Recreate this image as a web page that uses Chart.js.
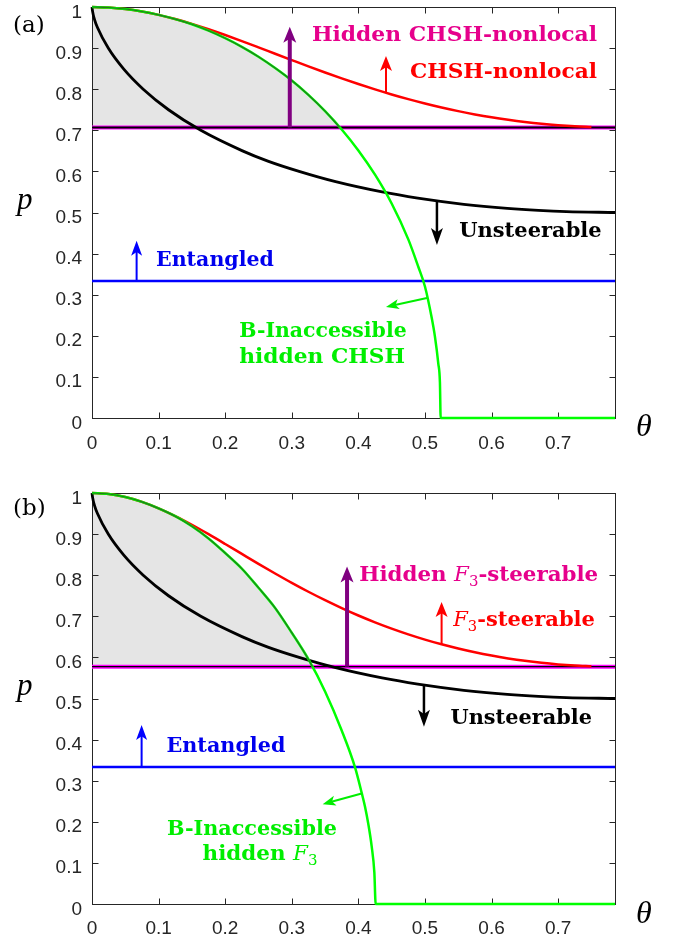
<!DOCTYPE html>
<html lang="en">
<head>
<meta charset="UTF-8">
<title>Hidden nonlocality / steering regions</title>
<script src="https://cdn.jsdelivr.net/npm/chart.js@4.4.0/dist/chart.umd.min.js"></script>
<style>
  html, body { margin: 0; padding: 0; background: #fff; }
  #wrap { position: relative; width: 674px; height: 941px; }
  canvas { position: absolute; left: 0; }
  #chartA { top: 0; }
  #chartB { top: 470px; }
</style>
</head>
<body>
<div id="wrap">
  <canvas id="chartA" width="674" height="470"></canvas>
  <canvas id="chartB" width="674" height="471"></canvas>
</div>
<script>
// ---- values ----
const xTicks = [0, 0.1, 0.2, 0.3, 0.4, 0.5, 0.6, 0.7];
const xTickLabels = ['0', '0.1', '0.2', '0.3', '0.4', '0.5', '0.6', '0.7'];
const yTicks = [0, 0.1, 0.2, 0.3, 0.4, 0.5, 0.6, 0.7, 0.8, 0.9, 1];
const yTickLabels = ['0', '0.1', '0.2', '0.3', '0.4', '0.5', '0.6', '0.7', '0.8', '0.9', '1'];
const thetaMax = 0.7854;

// red: CHSH-nonlocal (a) / F3-steerable (b)
const redTheta = [0, 0.025, 0.05, 0.075, 0.1, 0.125, 0.15, 0.175, 0.2, 0.225, 0.25, 0.275, 0.3, 0.325, 0.35, 0.375,
                  0.4, 0.425, 0.45, 0.475, 0.5, 0.525, 0.55, 0.575, 0.6, 0.625, 0.65, 0.675, 0.7, 0.725, 0.75];
const redPA = [1, 0.9988, 0.9951, 0.9890, 0.9808, 0.9707, 0.9590, 0.9459, 0.9318, 0.9170, 0.9017, 0.8862, 0.8708, 0.8555, 0.8407, 0.8263,
               0.8126, 0.7995, 0.7872, 0.7758, 0.7652, 0.7554, 0.7466, 0.7386, 0.7315, 0.7254, 0.7201, 0.7157, 0.7123, 0.7097, 0.7080];
const redPB = [1, 0.9975, 0.9902, 0.9784, 0.9627, 0.9439, 0.9227, 0.8998, 0.8760, 0.8518, 0.8277, 0.8042, 0.7814, 0.7597, 0.7392, 0.7200,
               0.7020, 0.6854, 0.6701, 0.6561, 0.6433, 0.6318, 0.6216, 0.6124, 0.6044, 0.5975, 0.5916, 0.5868, 0.5830, 0.5802, 0.5783];

// black: unsteerable bound (same in both panels)
const blackTheta = [0, 0.0008, 0.0037, 0.0082, 0.0244, 0.0471, 0.0769, 0.1149, 0.1634, 0.2260, 0.2641, 0.3110, 0.3658, 0.4357,
                    0.4893, 0.5584, 0.6237, 0.6704, 0.7125, 0.7854];
const blackP = [1, 0.99, 0.97, 0.95, 0.90, 0.85, 0.80, 0.75, 0.70, 0.65, 0.625, 0.60, 0.575, 0.55, 0.535, 0.52, 0.51, 0.505, 0.502, 0.50];

// green: B-inaccessible hidden CHSH (a) / hidden F3 (b)
const greenThetaA = [0, 0.025, 0.05, 0.075, 0.1, 0.125, 0.15, 0.175, 0.2, 0.225, 0.25, 0.275, 0.3, 0.325, 0.35, 0.375,
                     0.4, 0.425, 0.45, 0.475, 0.49, 0.5, 0.51, 0.515, 0.52, 0.5225, 0.5236, 0.6, 0.7, 0.7854];
const greenPA = [1, 0.9988, 0.9951, 0.9890, 0.9808, 0.9705, 0.958, 0.9423, 0.924, 0.903, 0.879, 0.8515, 0.821, 0.786, 0.7465, 0.702,
                 0.651, 0.592, 0.522, 0.4346, 0.368, 0.32, 0.245, 0.198, 0.133, 0.086, 0, 0, 0, 0];
const greenThetaB = [0, 0.025, 0.05, 0.075, 0.1, 0.125, 0.15, 0.175, 0.2, 0.225, 0.25, 0.275, 0.3, 0.325, 0.35, 0.375,
                     0.395, 0.405, 0.41, 0.415, 0.42, 0.424, 0.426, 0.5, 0.6, 0.7, 0.7854];
const greenPB = [1, 0.9975, 0.9902, 0.9784, 0.9627, 0.9435, 0.919, 0.8894, 0.854, 0.8161, 0.7696, 0.7204, 0.6601, 0.5956, 0.5172, 0.4221,
                 0.3325, 0.2705, 0.2367, 0.194, 0.140, 0.077, 0, 0, 0, 0, 0];

const entangledP = 0.3333;
const hiddenPA = 0.7071;   // hidden CHSH-nonlocal threshold
const hiddenPB = 0.5774;   // hidden F3-steerable threshold
const fillEndA = 0.372;    // green meets the threshold line
const fillEndB = 0.331;

// ---- helpers ----
const pts = (xs, ys) => xs.map((v, i) => ({ x: v, y: ys[i] }));

function line(data, color, width, order) {
  return { data, borderColor: color, borderWidth: width, order, fill: false, pointRadius: 0,
           cubicInterpolationMode: 'monotone', clip: 6 };
}

function arrow(ctx, x1, y1, x2, y2, color, lw, hl, hw) {
  const a = Math.atan2(y2 - y1, x2 - x1), c = Math.cos(a), s = Math.sin(a);
  const bx = x2 - hl * c, by = y2 - hl * s;
  ctx.strokeStyle = color; ctx.fillStyle = color; ctx.lineWidth = lw;
  ctx.beginPath(); ctx.moveTo(x1, y1); ctx.lineTo(bx + 0.3 * hl * c, by + 0.3 * hl * s); ctx.stroke();
  ctx.beginPath();
  ctx.moveTo(x2, y2);
  ctx.lineTo(bx + hw / 2 * s, by - hw / 2 * c);
  ctx.lineTo(bx + 0.25 * hl * c, by + 0.25 * hl * s);
  ctx.lineTo(bx - hw / 2 * s, by + hw / 2 * c);
  ctx.closePath(); ctx.fill();
}

function fontOf(st, size) {
  if (st === 'i') return `italic ${size.toFixed(2)}px "DejaVu Serif"`;
  if (st === 's') return `${(size * 0.7).toFixed(2)}px "DejaVu Serif"`;
  return `bold ${size.toFixed(2)}px "DejaVu Serif"`;
}

// draws a run of text pieces at a fixed size, squeezed horizontally to span [left, right]
function drawRich(ctx, parts, left, right, base, color) {
  const size = 21;
  let w = 0;
  parts.forEach(([t, st]) => { ctx.font = fontOf(st, size); w += ctx.measureText(t).width; });
  const k = (right - left) / w;
  ctx.save();
  ctx.translate(left, base);
  ctx.scale(k, 1);
  let x = 0;
  ctx.fillStyle = color; ctx.textAlign = 'left'; ctx.textBaseline = 'alphabetic';
  parts.forEach(([t, st]) => {
    ctx.font = fontOf(st, size);
    ctx.fillText(t, x, st === 's' ? size * 0.22 : 0);
    x += ctx.measureText(t).width;
  });
  ctx.restore();
}

function decorations(p) {
  return {
    id: 'deco',
    beforeDatasetsDraw(chart) {
      const { ctx, chartArea: a, scales: { x, y } } = chart;
      ctx.save();
      ctx.strokeStyle = '#262626'; ctx.lineWidth = 1;
      const L = Math.round(a.left) + 0.5, R = Math.round(a.right) + 0.5;
      const T = Math.round(a.top) + 0.5, B = Math.round(a.bottom) + 0.5;
      ctx.beginPath();
      xTicks.forEach(v => {
        const px = Math.round(x.getPixelForValue(v)) + 0.5;
        ctx.moveTo(px, B); ctx.lineTo(px, B - 6);
        ctx.moveTo(px, T); ctx.lineTo(px, T + 6);
      });
      yTicks.forEach(v => {
        const py = Math.round(y.getPixelForValue(v)) + 0.5;
        ctx.moveTo(L, py); ctx.lineTo(L + 6, py);
        ctx.moveTo(R, py); ctx.lineTo(R - 6, py);
      });
      ctx.stroke();
      ctx.strokeRect(L, T, R - L, B - T);

      ctx.fillStyle = '#262626';
      ctx.font = '19px "Liberation Sans"';
      ctx.textBaseline = 'alphabetic';
      ctx.textAlign = 'center';
      xTicks.forEach((v, i) => ctx.fillText(xTickLabels[i], x.getPixelForValue(v), a.bottom + p.xLabelDrop));
      ctx.textAlign = 'right';
      yTicks.forEach((v, i) => ctx.fillText(yTickLabels[i], a.left - 10, y.getPixelForValue(v) + 10.5));

      ctx.fillStyle = '#000';
      ctx.textAlign = 'left';
      ctx.font = 'italic 31px "Liberation Serif"';
      ctx.fillText('p', 17, p.pBase);
      ctx.font = 'italic 32px "Liberation Serif"';
      ctx.fillText('θ', 636, p.thetaBase);
      ctx.font = '23px "DejaVu Serif"';
      ctx.fillText(p.tag, 13, p.tagBase);
      ctx.restore();
    },
    afterDatasetsDraw(chart) {
      const { ctx, scales: { x, y } } = chart;
      ctx.save();
      p.arrows.forEach(r => arrow(ctx, x.getPixelForValue(r.from[0]), y.getPixelForValue(r.from[1]),
        x.getPixelForValue(r.to[0]), y.getPixelForValue(r.to[1]), r.color, r.lw, r.hl, r.hw));
      p.texts.forEach(t => drawRich(ctx, t.parts, x.getPixelForValue(t.l), x.getPixelForValue(t.r),
        y.getPixelForValue(t.base), t.color));
      ctx.restore();
    }
  };
}

function buildPanel(p) {
  const fillPts = pts(p.greenTheta, p.greenP).filter(q => q.y >= p.hiddenP);
  fillPts.push({ x: p.fillEnd, y: p.hiddenP });
  const fillSet = line(fillPts, '#1f7a1f', 1.2, 0);
  fillSet.fill = { value: p.hiddenP };
  fillSet.backgroundColor = '#e5e5e5';

  new Chart(document.getElementById(p.canvas), {
    type: 'line',
    data: {
      datasets: [
        fillSet,
        line(pts(p.greenTheta, p.greenP), '#00ff00', 2.5, 1),
        line(pts(blackTheta, blackP), '#000000', 2.8, 2),
        line(pts(redTheta, p.redP), '#ff0000', 2.5, 3),
        line(pts([0, thetaMax], [p.hiddenP, p.hiddenP]), '#000000', p.blackCore, 4),
        line(pts([0, thetaMax], [p.hiddenP, p.hiddenP]), '#ff00ff', 4, 5),
        line(pts([0, thetaMax], [entangledP, entangledP]), '#0000ff', 2.5, 6)
      ]
    },
    options: {
      responsive: false, animation: false, devicePixelRatio: 1,
      layout: { padding: p.padding },
      scales: {
        x: { type: 'linear', min: 0, max: thetaMax, display: false },
        y: { type: 'linear', min: 0, max: 1, display: false }
      },
      plugins: { legend: { display: false }, tooltip: { enabled: false }, filler: { drawTime: 'beforeDatasetsDraw' } }
    },
    plugins: [decorations(p)]
  });
}

const magentaText = '#e6008c';

buildPanel({
  canvas: 'chartA', padding: { left: 92, right: 59, top: 7, bottom: 52 },
  redP: redPA, greenTheta: greenThetaA, greenP: greenPA, hiddenP: hiddenPA, fillEnd: fillEndA, blackCore: 2,
  tag: '(a)', tagBase: 32, pBase: 209, thetaBase: 436, xLabelDrop: 31,
  arrows: [
    { from: [0.297, hiddenPA], to: [0.297, 0.952], color: '#800080', lw: 4, hl: 16, hw: 13 },
    { from: [0.4415, 0.791], to: [0.4415, 0.881], color: '#ff0000', lw: 2, hl: 15, hw: 12 },
    { from: [0.518, 0.529], to: [0.518, 0.421], color: '#000000', lw: 2.5, hl: 17, hw: 12 },
    { from: [0.067, entangledP], to: [0.067, 0.431], color: '#0000ff', lw: 2, hl: 15, hw: 11 },
    { from: [0.503, 0.292], to: [0.4415, 0.270], color: '#00ee00', lw: 2, hl: 13, hw: 10 }
  ],
  texts: [
    { parts: [['Hidden CHSH-nonlocal', 'b']], l: 0.3303, r: 0.7583, base: 0.9173, color: magentaText },
    { parts: [['CHSH-nonlocal', 'b']], l: 0.4775, r: 0.7583, base: 0.8273, color: '#ff0000' },
    { parts: [['Unsteerable', 'b']], l: 0.5515, r: 0.7653, base: 0.4397, color: '#000000' },
    { parts: [['Entangled', 'b']], l: 0.0961, r: 0.2733, base: 0.3698, color: '#0000ee' },
    { parts: [['B-Inaccessible', 'b']], l: 0.2212, r: 0.4725, base: 0.1978, color: '#00ee00' },
    { parts: [['hidden CHSH', 'b']], l: 0.2212, r: 0.4700, base: 0.1345, color: '#00ee00' }
  ]
});

buildPanel({
  canvas: 'chartB', padding: { left: 92, right: 59, top: 23, bottom: 37 },
  redP: redPB, greenTheta: greenThetaB, greenP: greenPB, hiddenP: hiddenPB, fillEnd: fillEndB, blackCore: 1.2,
  tag: '(b)', tagBase: 45, pBase: 225, thetaBase: 453, xLabelDrop: 29.5,
  arrows: [
    { from: [0.383, hiddenPB], to: [0.383, 0.821], color: '#800080', lw: 4, hl: 16, hw: 13 },
    { from: [0.525, 0.632], to: [0.525, 0.735], color: '#ff0000', lw: 2, hl: 15, hw: 12 },
    { from: [0.4985, 0.534], to: [0.4985, 0.431], color: '#000000', lw: 2.5, hl: 17, hw: 12 },
    { from: [0.0745, entangledP], to: [0.0745, 0.4355], color: '#0000ff', lw: 2, hl: 15, hw: 11 },
    { from: [0.405, 0.269], to: [0.3464, 0.243], color: '#00ee00', lw: 2, hl: 13, hw: 10 }
  ],
  texts: [
    { parts: [['Hidden ', 'b'], ['F', 'i'], ['3', 's'], ['-steerable', 'b']], l: 0.4014, r: 0.7602, base: 0.7859, color: magentaText },
    { parts: [['F', 'i'], ['3', 's'], ['-steerable', 'b']], l: 0.5425, r: 0.7553, base: 0.6764, color: '#ff0000' },
    { parts: [['Unsteerable', 'b']], l: 0.5384, r: 0.7508, base: 0.4380, color: '#000000' },
    { parts: [['Entangled', 'b']], l: 0.1119, r: 0.2904, base: 0.3706, color: '#0000ee' },
    { parts: [['B-Inaccessible', 'b']], l: 0.1126, r: 0.3679, base: 0.1679, color: '#00ee00' },
    { parts: [['hidden ', 'b'], ['F', 'i'], ['3', 's']], l: 0.1661, r: 0.3387, base: 0.1071, color: '#00ee00' }
  ]
});
</script>
</body>
</html>
